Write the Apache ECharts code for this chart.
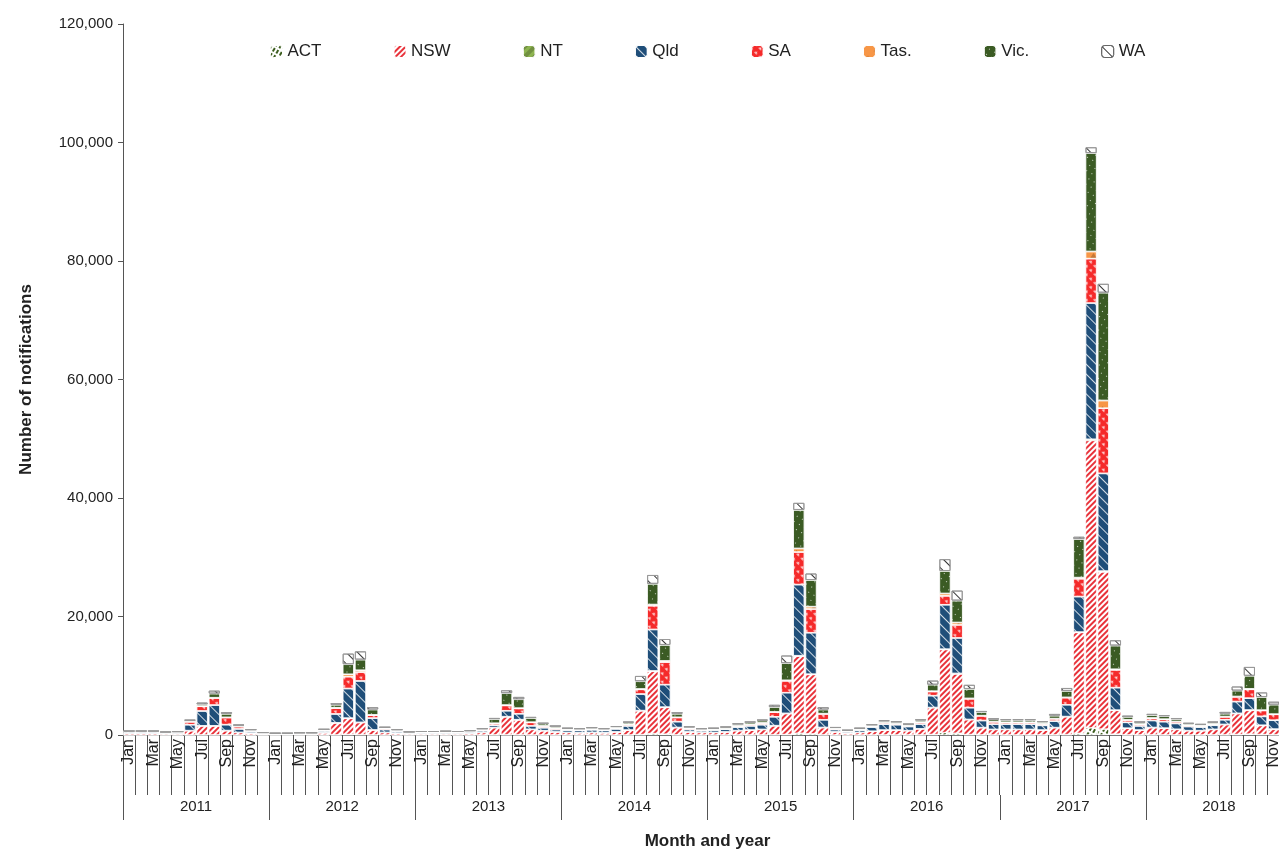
<!DOCTYPE html>
<html><head><meta charset="utf-8">
<script src="https://cdn.jsdelivr.net/npm/echarts@6/dist/echarts.min.js"></script>
<style>html,body{margin:0;padding:0;background:#fff}#c{width:1279px;height:850px}</style>
</head><body><div id="c"></div>
<script>
const years = ['2011','2012','2013','2014','2015','2016','2017','2018'];
const monthNames = ['Jan','Feb','Mar','Apr','May','Jun','Jul','Aug','Sep','Oct','Nov','Dec'];
const yTicks = [0,20000,40000,60000,80000,100000,120000];

const ACT = [
 10,10,10,10,10,20,30,30,20,10,10,10,
 10,10,10,10,10,30,100,80,30,10,10,10,
 10,10,10,10,10,10,30,60,50,20,10,10,
 10,10,10,10,10,20,80,250,150,30,10,10,
 10,10,20,20,20,50,100,300,200,40,10,10,
 10,20,20,20,20,30,100,400,300,80,30,20,
 20,20,20,20,30,80,300,1200,1000,150,30,20,
 30,30,30,20,20,30,50,100,150,100,60,60];
const NSW = [
 250,250,250,200,200,700,1500,1500,700,400,300,150,
 100,100,150,150,350,2000,2700,2000,800,400,300,200,
 200,200,200,200,250,400,1200,3000,2500,900,700,500,
 400,350,400,350,500,800,4000,10500,4500,1200,500,400,
 400,500,700,800,900,1500,3500,13000,10000,1200,500,300,
 400,600,800,800,700,1000,4500,14000,10000,2500,1200,900,
 900,900,900,800,1200,3000,17000,48500,26500,4000,1100,800,
 1200,1100,900,700,700,900,1700,3500,4000,1500,900,1000];
const NT = [
 10,10,10,10,10,10,20,20,20,10,10,10,
 10,10,10,10,10,20,40,40,20,10,10,10,
 10,10,10,10,10,10,20,30,30,20,10,10,
 10,10,10,10,10,10,30,60,50,20,10,10,
 10,10,10,10,10,20,40,80,60,20,10,10,
 10,10,10,10,10,10,30,80,80,30,10,10,
 10,10,10,10,10,20,60,200,150,40,10,10,
 20,20,20,10,10,10,20,40,60,40,30,30];
const Qld = [
 250,250,250,150,200,1000,2500,3500,1000,600,300,100,
 80,80,100,100,300,1500,5000,7000,2000,500,300,150,
 200,200,250,200,250,300,400,1000,1000,600,500,400,
 400,400,450,400,500,700,2800,7000,3800,1000,400,300,
 400,450,600,700,800,1500,3500,12000,7000,1300,400,250,
 400,700,1000,900,700,800,2000,7500,6000,2000,1200,900,
 900,900,900,800,1100,2000,6000,23000,16500,3800,1000,700,
 1200,1100,1000,700,600,700,800,2000,2000,1500,1500,1800];
const SA = [
 60,60,60,50,60,500,800,1200,1200,400,150,60,
 40,40,40,40,150,1000,2000,1500,500,200,150,80,
 60,60,60,60,80,150,300,900,900,600,300,250,
 120,100,120,100,150,250,800,4000,3800,700,200,150,
 120,130,200,250,300,800,2000,5500,4000,1000,150,100,
 120,150,250,200,150,300,700,1500,2200,1500,800,400,
 300,300,300,250,400,1200,3000,7500,11000,3000,400,300,
 400,400,300,200,200,200,500,800,1500,1000,1000,1200];
const Tas = [
 10,10,10,10,10,20,30,40,30,10,10,10,
 10,10,10,10,10,50,400,300,50,10,10,10,
 10,10,10,10,10,10,30,60,50,20,10,10,
 10,10,10,10,10,20,60,200,200,30,10,10,
 10,10,10,10,10,30,80,600,400,40,10,10,
 10,10,10,10,10,20,60,400,400,60,20,10,
 10,10,10,10,20,40,200,1200,1300,100,20,10,
 20,20,20,10,10,10,30,50,80,50,30,30];
const Vic = [
 60,60,60,60,60,200,300,700,600,200,100,50,
 40,40,40,40,100,500,1700,1800,900,150,100,50,
 80,80,80,80,100,150,700,2000,1500,700,400,300,
 150,150,200,150,200,300,1300,3500,2700,600,200,150,
 150,200,300,350,400,800,2900,6500,4500,700,150,100,
 150,200,250,250,200,300,1100,3800,3700,1600,600,400,
 350,350,350,300,500,1100,6500,16600,18200,4000,500,300,
 500,500,400,250,200,250,500,1000,2200,2200,1600,1500];
const WA = [
 40,40,40,40,40,100,300,500,300,100,50,40,
 30,30,30,30,60,300,1800,1400,400,50,50,30,
 40,40,40,40,50,80,200,500,400,200,100,50,
 80,80,80,80,100,150,900,1500,1000,300,100,80,
 80,80,100,100,150,400,1300,1200,1100,400,80,50,
 80,100,150,100,100,200,700,2000,1700,700,200,150,
 200,200,200,150,300,500,400,1000,1500,900,200,100,
 200,200,200,150,100,150,300,700,1500,800,500,500];

const months = [];
years.forEach(y => monthNames.forEach(m => months.push(m + ' ' + y)));

const seriesDefs = [
 {name:'ACT', data:ACT, color:'#ffffff', decal:{color:'#3d5e1f', symbol:'rect', dashArrayX:[[2,2]], dashArrayY:[4,2], symbolSize:1}},
 {name:'NSW', data:NSW, color:'#ffffff', decal:{color:'#e8323a', symbol:'rect', dashArrayX:[[1,0]], dashArrayY:[2,2], rotation:-Math.PI/4, symbolSize:1}},
 {name:'NT', data:NT, color:'#8db450', decal:null},
 {name:'Qld', data:Qld, color:'#1f4e79', decal:{color:'rgba(255,255,255,0.8)', symbol:'rect', dashArrayX:[[1,0]], dashArrayY:[1,6], rotation:Math.PI/4, symbolSize:1}},
 {name:'SA', data:SA, color:'#f52a2a', decal:{color:'rgba(255,255,255,0.85)', symbol:'triangle', dashArrayX:[[5,1]], dashArrayY:[3,3], symbolSize:0.8}},
 {name:'Tas', data:Tas, color:'#f79646', decal:null, label:'Tas.'},
 {name:'Vic', data:Vic, color:'#3b5b24', decal:{color:'#ffffff', symbol:'circle', dashArrayX:[[1,5]], dashArrayY:[1,5], symbolSize:1}, label:'Vic.'},
 {name:'WA', data:WA, color:'#ffffff', decal:{color:'#333333', symbol:'rect', dashArrayX:[[1,0]], dashArrayY:[1,7], rotation:Math.PI/4, symbolSize:1}}
];

const series = seriesDefs.map(d => ({
  name: d.label || d.name,
  type: 'bar',
  stack: 'total',
  xAxisIndex: 0,
  barCategoryGap: '8%',
  data: d.data,
  itemStyle: {
    color: d.color,
    decal: d.decal || undefined,
    borderColor: d.name === 'WA' ? '#999' : '#ffffff',
    borderWidth: d.name === 'WA' ? 1 : 0.6
  }
}));

const chart = echarts.init(document.getElementById('c'));
chart.setOption({
  animation: false,
  aria: {enabled: true, decal: {show: true}},
  legend: {
    top: 38, left: 265, itemGap: 72, itemWidth: 12, itemHeight: 12,
    textStyle: {fontFamily: 'Liberation Sans', fontSize: 17, color: '#222'},
    data: seriesDefs.map(d => ({name: d.label || d.name, itemStyle: {borderColor: d.name==='WA'?'#666':'#fff', borderWidth: 1}}))
  },
  grid: {left: 123, right: -13, top: 24, bottom: 115, containLabel: false, outerBoundsMode: 'none'},
  xAxis: [
    {type:'category', data: months, position:'bottom',
     axisLine:{show:true, lineStyle:{color:'#555'}},
     axisTick:{show:true, length:60, interval:0, alignWithLabel:false, lineStyle:{color:'#555'}},
     axisLabel:{interval:1, rotate:90, margin:4, fontFamily:'Liberation Sans', fontSize:16, color:'#222',
       formatter: v => v.split(' ')[0]}},
    {type:'category', data: years, position:'bottom', offset:60, gridIndex:0,
     axisLine:{show:false},
     axisTick:{show:true, length:25, interval:0, alignWithLabel:false, lineStyle:{color:'#555'}},
     axisLabel:{margin:4, fontFamily:'Liberation Sans', fontSize:15, color:'#222'},
     name:'Month and year', nameLocation:'middle', nameGap:38,
     nameTextStyle:{fontFamily:'Liberation Sans', fontSize:17, fontWeight:'bold', color:'#222'}}
  ],
  yAxis: {type:'value', min:0, max:120000, interval:20000,
    axisLine:{show:true, lineStyle:{color:'#555'}},
    axisTick:{show:true, length:5, lineStyle:{color:'#555'}},
    splitLine:{show:false},
    axisLabel:{fontFamily:'Liberation Sans', fontSize:15, color:'#222', margin:10,
      formatter: v => v.toLocaleString('en-US')},
    name:'Number of notifications', nameLocation:'middle', nameGap:88,
    nameTextStyle:{fontFamily:'Liberation Sans', fontSize:17, fontWeight:'bold', color:'#222'}},
  series: series.concat([{type:'bar', xAxisIndex:1, data:years.map(()=>0), silent:true}])
});
</script></body></html>
